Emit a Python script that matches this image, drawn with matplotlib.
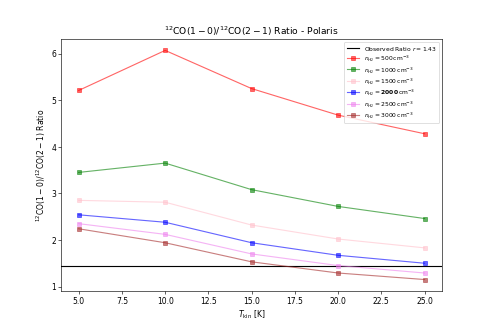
import numpy as np
import matplotlib
matplotlib.use("Agg")
import matplotlib.pyplot as plt

# Datos
T_kin = np.array([5.0, 10.0, 15.0, 20.0, 25.0])
densidades = ["500", "1000", "1500", r"\mathbf{2000}", "2500", "3000"]
ratio_500 = [5.21, 6.07, 5.25, 4.68, 4.28]
ratio_1000 = [3.45, 3.65, 3.08, 2.72, 2.46]
ratio_1500 = [2.85, 2.81, 2.32, 2.02, 1.83]
ratio_2000 = [2.54, 2.38, 1.94, 1.67, 1.50]
ratio_2500 = [2.35, 2.12, 1.70, 1.45, 1.29]
ratio_3000 = [2.24, 1.94, 1.53, 1.29, 1.15]
colores = ["red", "green", "pink", "blue", "violet", "brown"]
r_obs = 1.43

ratios = [ratio_500, ratio_1000, ratio_1500, ratio_2000, ratio_2500, ratio_3000]

fig, ax = plt.subplots(figsize=(9, 6), dpi=491 / 9)

ax.axhline(r_obs, color="black", label=r"Observed Ratio $r = 1.43$")
for dens, vals, c in zip(densidades, ratios, colores):
    ax.plot(T_kin, vals, marker="s", markersize=5, color=c, alpha=0.6,
            label=r"$n_{\rm H_2} = %s\,\rm cm^{-3}$" % dens)

ax.set_xlabel(r"$T_{\rm kin}$ [K]")
ax.set_ylabel(r"$^{12}$CO$(1-0)/^{12}$CO$(2-1)$ Ratio")
ax.set_title(r"$^{12}$CO$(1-0)/^{12}$CO$(2-1)$ Ratio - Polaris")
ax.legend(fontsize=8, labelspacing=0.1)

fig.savefig("out.png", dpi=491 / 9)
